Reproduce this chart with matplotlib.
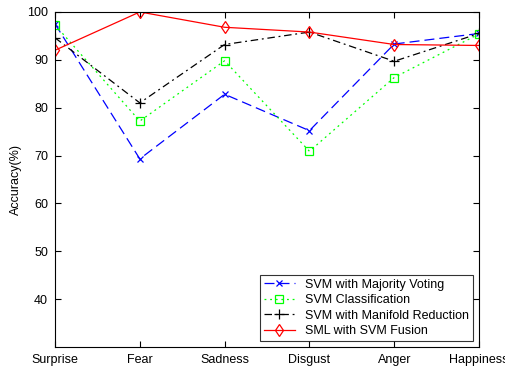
import matplotlib
matplotlib.use("Agg")
import matplotlib.pyplot as plt

categories = ["Surprise", "Fear", "Sadness", "Disgust", "Anger", "Happiness"]
majority_voting = [97.5, 69.3, 82.8, 75.2, 93.3, 95.5]
svm_classification = [97.3, 77.2, 89.8, 70.9, 86.3, 95.4]
manifold_reduction = [94.6, 81.0, 93.2, 95.8, 89.7, 95.5]
sml_fusion = [92.0, 100.0, 96.8, 95.8, 93.2, 93.0]
yticks = [40, 50, 60, 70, 80, 90, 100]

plt.rcParams['font.family'] = ['Liberation Sans', 'DejaVu Sans']
fig = plt.figure(figsize=(5.06, 3.69), dpi=100)
ax = fig.add_axes([0.1087, 0.0596, 0.838, 0.908])
x = list(range(len(categories)))

ax.plot(x, majority_voting, color='blue', linestyle=(0, (8, 4)), linewidth=0.9,
        marker='x', markersize=4, markeredgewidth=0.9, label='SVM with Majority Voting')
ax.plot(x, svm_classification, color='#00ff00', linestyle=(0, (1.5, 3)), linewidth=0.9,
        marker='s', markersize=6, markerfacecolor='none', markeredgewidth=0.9,
        label='SVM Classification')
ax.plot(x, manifold_reduction, color='black', linestyle=(0, (6, 3, 1.5, 3)), linewidth=0.9,
        marker='+', markersize=7, markeredgewidth=0.9, label='SVM with Manifold Reduction')
ax.plot(x, sml_fusion, color='red', linestyle='-', linewidth=0.9,
        marker='d', markersize=6.5, markerfacecolor='none', markeredgewidth=0.9,
        label='SML with SVM Fusion')

ax.set_xlim(0, len(categories) - 1)
ax.set_ylim(30, 100)
ax.set_xticks(x)
ax.set_xticklabels(categories)
ax.set_yticks(yticks)
ax.set_ylabel('Accuracy(%)', fontsize=9)
ax.tick_params(direction='in', length=4, width=0.8, labelsize=9, top=True, right=True, pad=5)
for s in ax.spines.values():
    s.set_linewidth(0.8)

leg = ax.legend(loc='lower right', fontsize=9, frameon=True, fancybox=False,
                edgecolor='black', borderpad=0.3, labelspacing=0.28, handlelength=2.5,
                borderaxespad=0.5)
leg.get_frame().set_linewidth(0.8)

fig.savefig('out.png', dpi=100)
